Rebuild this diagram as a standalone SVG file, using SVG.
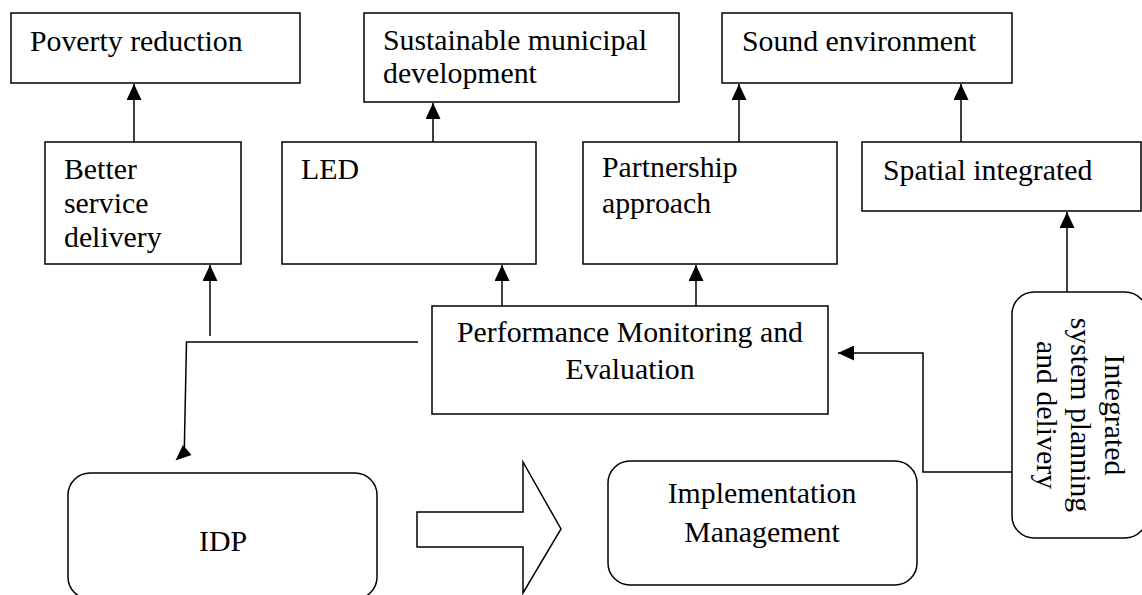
<svg xmlns="http://www.w3.org/2000/svg" width="1142" height="595" viewBox="0 0 1142 595">
<defs>
<style>
.box{fill:#fff;stroke:#000;stroke-width:1.5}
.t{font-family:"Liberation Serif","Times New Roman",serif;font-size:29.8px;fill:#000}
.c{text-anchor:middle}
.ln{fill:none;stroke:#000;stroke-width:1.5}
</style>
<marker id="ah" markerWidth="16" markerHeight="15" refX="16" refY="7.5" orient="auto" markerUnits="userSpaceOnUse">
<path d="M0,0 L16,7.5 L0,15 z" fill="#000"/>
</marker>
</defs>
<rect width="1142" height="595" fill="#fff"/>

<g id="connectors">
<line class="ln" x1="134" y1="142" x2="134" y2="84" marker-end="url(#ah)"/>
<line class="ln" x1="433" y1="142" x2="433" y2="103" marker-end="url(#ah)"/>
<line class="ln" x1="739" y1="142" x2="739" y2="84" marker-end="url(#ah)"/>
<line class="ln" x1="961" y1="142" x2="961" y2="84" marker-end="url(#ah)"/>
<line class="ln" x1="1067" y1="292" x2="1067" y2="212" marker-end="url(#ah)"/>
<line class="ln" x1="502" y1="306" x2="502" y2="265" marker-end="url(#ah)"/>
<line class="ln" x1="696" y1="306" x2="696" y2="265" marker-end="url(#ah)"/>
<line class="ln" x1="210" y1="336" x2="210" y2="265" marker-end="url(#ah)"/>
<polyline class="ln" points="418,342 186.5,342 184.3,450"/>
<polygon points="175.5,460.5 191.5,455 183,445" fill="#000"/>
<polyline class="ln" points="1012,472 923,472 923,353 838,353" marker-end="url(#ah)"/>
</g>

<g id="poverty">
<rect class="box" x="11" y="13" width="289" height="70"/>
<text class="t" x="30" y="51">Poverty reduction</text>
</g>
<g id="sustainable">
<rect class="box" x="364" y="13" width="315" height="89"/>
<text class="t" x="383" y="50">Sustainable municipal</text>
<text class="t" x="383" y="83">development</text>
</g>
<g id="sound">
<rect class="box" x="722" y="13" width="290" height="70"/>
<text class="t" x="742" y="51">Sound environment</text>
</g>
<g id="better">
<rect class="box" x="45" y="142" width="196" height="122"/>
<text class="t" x="64" y="179">Better</text>
<text class="t" x="64" y="213">service</text>
<text class="t" x="64" y="247">delivery</text>
</g>
<g id="led">
<rect class="box" x="282" y="142" width="254" height="122"/>
<text class="t" x="301" y="179">LED</text>
</g>
<g id="partnership">
<rect class="box" x="583" y="142" width="254" height="122"/>
<text class="t" x="602" y="177">Partnership</text>
<text class="t" x="602" y="213">approach</text>
</g>
<g id="spatial">
<rect class="box" x="862" y="142" width="279" height="69"/>
<text class="t" x="883" y="180">Spatial integrated</text>
</g>
<g id="performance">
<rect class="box" x="432" y="306" width="396" height="108"/>
<text class="t c" x="630" y="342">Performance Monitoring and</text>
<text class="t c" x="630" y="379">Evaluation</text>
</g>
<g id="integrated">
<rect class="box" x="1012" y="292" width="135" height="246" rx="22" ry="22"/>
<text class="t c" transform="translate(1105,415) rotate(90)">Integrated</text>
<text class="t c" transform="translate(1071,415) rotate(90)">system planning</text>
<text class="t c" transform="translate(1037,415) rotate(90)">and delivery</text>
</g>
<g id="idp">
<rect class="box" x="68" y="473" width="309" height="126" rx="22" ry="22"/>
<text class="t c" x="223" y="551">IDP</text>
</g>
<g id="blockarrow">
<polygon class="box" points="417,512 523,512 523,462 561,529 523,593 523,547 417,547"/>
</g>
<g id="implementation">
<rect class="box" x="608" y="461" width="309" height="124" rx="22" ry="22"/>
<text class="t c" x="762" y="503">Implementation</text>
<text class="t c" x="762" y="542">Management</text>
</g>
</svg>
